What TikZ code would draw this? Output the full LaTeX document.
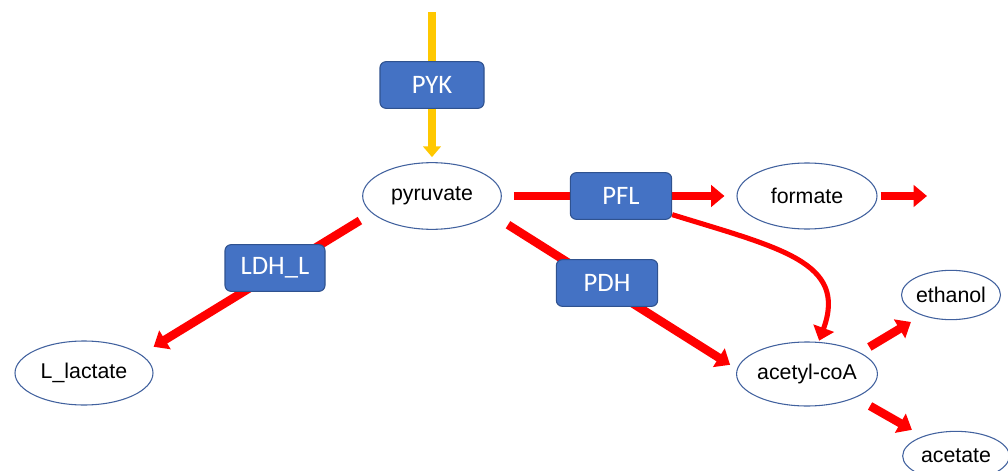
\documentclass[tikz,border=0pt]{standalone}
\usepackage{fontspec}
\setmainfont{Liberation Sans}
\newfontfamily\enzfont{Carlito}
\usepackage{tikz}
\usetikzlibrary{arrows.meta}
\usetikzlibrary{shapes.geometric,backgrounds}
\usetikzlibrary{positioning}

\definecolor{enzblue}{HTML}{4472C4}
\definecolor{enzedge}{HTML}{2F528F}
\definecolor{metedge}{HTML}{41619E}
\definecolor{fluxred}{HTML}{FF0000}
\definecolor{feedgold}{HTML}{FFC800}

\begin{document}
\begin{tikzpicture}[x=0.75pt,y=0.75pt,yscale=-1,xscale=1]
  \useasboundingbox (0,0) rectangle (1008,471);
  \clip (0,0) rectangle (1008,471);
  \tikzstyle{metab} = [ellipse,draw=metedge,line width=0.8pt,fill=white,inner sep=0pt,font=\fontsize{16}{18}\selectfont]
  \tikzstyle{enzyme} = [rectangle,rounded corners=4.5pt,draw=enzedge,line width=0.8pt,fill=enzblue,text=white,minimum width=76pt,minimum height=35pt,font=\enzfont\fontsize{20}{22}\selectfont]
  \tikzstyle{flux} = [line width=6.4pt,fluxred,-{Triangle[length=10pt,width=16pt]}]
  \tikzstyle{feed} = [line width=5.6pt,feedgold,-{Triangle[length=8pt,width=13pt]}]
  %Draw the metabolites
  \node[metab,minimum width=104pt,minimum height=50pt] (pyruvate) at (432,196) {pyruvate};
  \node[metab,minimum width=105pt,minimum height=49.5pt] (formate) at (807,196) {formate};
  \node[metab,minimum width=104pt,minimum height=48pt] (acetylcoa) at (807,374) {acetyl-coA};
  \node[metab,minimum width=103.5pt,minimum height=48pt] (lactate) at (84,373) {L\_lactate};
  \node[metab,minimum width=72pt,minimum height=37pt] (ethanol) at (951,295) {ethanol};
  \node[metab,minimum width=80pt,minimum height=37pt] (acetate) at (956,456) {acetate};
  %Draw the enzymes
  \node[enzyme,minimum width=78pt] (pyk) at (432,85) {PYK};
  \node[enzyme] (pfl) at (621,196) {PFL};
  \node[enzyme,minimum width=75pt] (ldh) at (275,268) {LDH\_L};
  \node[enzyme] (pdh) at (607,283) {PDH};
  % Free ends
  \coordinate (feedin) at (432,12);
  \coordinate (formateout) at (927,196);
  %Draw the fluxes under the enzymes
  \begin{scope}[on background layer]
    \draw[feed,shorten >=3.75pt] (feedin) -- (pyruvate.north);
    \draw[flux,shorten <=9pt,shorten >=9pt] (pyruvate.east) -- (formate.west);
    \draw[flux,shorten <=2.25pt] (formate.east) -- (formateout);
    \draw[flux,shorten <=10.5pt,shorten >=11pt] (pyruvate.196) -- (lactate.18);
    \draw[flux,shorten <=15pt,shorten >=6pt] (pyruvate.-17) -- (acetylcoa.176);
    \draw[flux,shorten <=8pt,shorten >=9.5pt] (acetylcoa.22) -- (ethanol.215);
    \draw[flux,shorten <=12.5pt,shorten >=9.5pt] (acetylcoa.-26) -- (acetate.149);
    %Draw the curved flux from PFL
    \draw[flux,line width=3.8pt,shorten >=1pt] (pfl.-20) .. controls (780,248) and (848,262) .. (acetylcoa.70);
  \end{scope}
\end{tikzpicture}
\end{document}
